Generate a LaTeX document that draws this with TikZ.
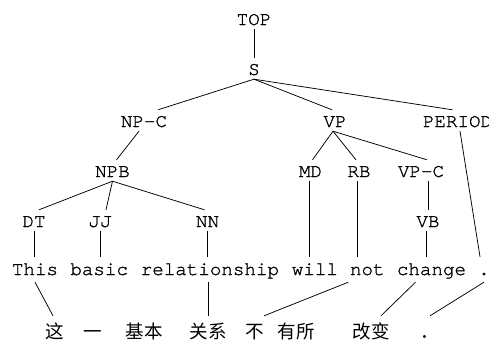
\documentclass[tikz,border=0pt]{standalone}
\usepackage{fontspec}
\newfontfamily\monofont[FakeBold=1.2]{TeX Gyre Cursor}
\newfontfamily\cjk{Noto Sans CJK SC}
\begin{document}
\begin{tikzpicture}[x=1pt,y=-1pt,
  lab/.style={font=\monofont\fontsize{19.2}{22}\selectfont, inner sep=0pt, anchor=base, text height=17pt, text depth=4pt},
  word/.style={lab, text height=18pt, text depth=7pt},
  zh/.style={font=\cjk\fontsize{18.5}{22}\selectfont, inner sep=0pt, anchor=base, text height=22pt, text depth=2pt},
  edge/.style={line width=0.75pt}]
\useasboundingbox (0,0) rectangle (489,341);
% tree labels
\node[lab] (top) at (254,25) {TOP};
\node[lab] (s) at (254,75) {S};
\node[lab] (npc) at (144,127) {NP-C};
\node[lab] (vp) at (335,127) {VP};
\node[lab] (period) at (457.5,127) {PERIOD};
\node[lab] (npb) at (112.5,177) {NPB};
\node[lab] (md) at (310.5,177) {MD};
\node[lab] (rb) at (359,177) {RB};
\node[lab] (vpc) at (421,177) {VP-C};
\node[lab] (dt) at (34,227) {DT};
\node[lab] (jj) at (100,227) {JJ};
\node[lab] (nn) at (207.5,227) {NN};
\node[lab] (vb) at (428,227) {VB};
% English words
\node[word] (this) at (35,275) {This};
\node[word] (basic) at (99.2,275) {basic};
\node[word] (rel) at (209.9,275) {relationship};
\node[word] (will) at (314.9,275) {will};
\node[word] (not) at (367.3,275) {not};
\node[word] (change) at (431.5,275) {change};
\node[word] (dot) at (484,275) {.};
% Chinese words
\node[zh] (zh1) at (55,338) {这};
\node[zh] (zh2) at (93,338) {一};
\node[zh] (zh3) at (144,338) {基本};
\node[zh] (zh4) at (208,338) {关系};
\node[zh] (zh5) at (255,338) {不};
\node[zh] (zh6) at (296,338) {有所};
\node[zh] (zh7) at (371,338) {改变};
\node[zh] (zh8) at (430,338) {．};
% tree edges
\draw[edge] (top.south) -- (s.north);
\draw[edge] (s.south) -- ([xshift=14pt]npc.north);
\draw[edge] (s.south) -- ([xshift=-3pt]vp.north);
\draw[edge] (s.south) -- ([xshift=-5pt]period.north);
\draw[edge] ([xshift=-5pt]npc.south) -- ([xshift=4pt]npb.north);
\draw[edge] ([xshift=-2pt]vp.south) -- ([xshift=2pt]md.north);
\draw[edge] ([xshift=-2pt]vp.south) -- ([xshift=-3pt]rb.north);
\draw[edge] ([xshift=-2pt]vp.south) -- ([xshift=6pt]vpc.north);
\draw[edge] (npb.south) -- ([xshift=5pt]dt.north);
\draw[edge] (npb.south) -- ([xshift=6pt]jj.north);
\draw[edge] (npb.south) -- ([xshift=-3pt]nn.north);
\draw[edge] (vb.north |- vpc.south) -- (vb.north);
\draw[edge] ([xshift=2.5pt]period.south) -- ([xshift=-4pt]dot.north);
% leaves
\draw[edge] (dt.south) -- (dt.south |- this.north);
\draw[edge] (jj.south) -- (jj.south |- basic.north);
\draw[edge] (nn.south) -- (nn.south |- rel.north);
\draw[edge] ([xshift=-1.5pt]md.south) -- ([xshift=-1.5pt]md.south |- will.north);
\draw[edge] ([xshift=-2pt]rb.south) -- ([xshift=-2pt]rb.south |- not.north);
\draw[edge] ([xshift=-2pt]vb.south) -- ([xshift=-2pt]vb.south |- change.north);
% alignment links
\draw[edge] (this.south) -- ([xshift=-2pt]zh1.north);
\draw[edge] (zh4.north |- rel.south) -- (zh4.north);
\draw[edge] ([xshift=-19pt]not.south) -- ([xshift=9pt]zh5.north);
\draw[edge] ([xshift=-16pt]change.south) -- ([xshift=10pt]zh7.north);
\draw[edge] (dot.south) -- (zh8.north);
\end{tikzpicture}
\end{document}
